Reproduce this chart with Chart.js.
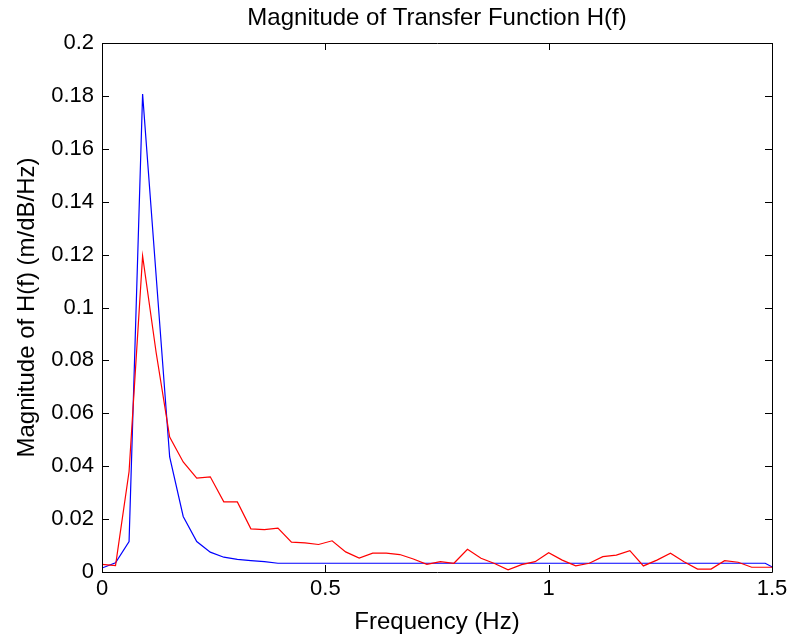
<!DOCTYPE html>
<html>
<head>
<meta charset="utf-8">
<script src="https://cdn.jsdelivr.net/npm/chart.js@4.4.0/dist/chart.umd.min.js"></script>
<style>
html, body { margin: 0; padding: 0; background: #fff; }
</style>
</head>
<body>
<canvas id="grafica" width="793" height="638"></canvas>
<script>
// frecuencias (Hz), paso aprox. 1/33
const frecuencias = [0, 0.0303, 0.0606, 0.0909, 0.1212, 0.1515, 0.1818, 0.2121, 0.2424, 0.2727,
    0.3030, 0.3333, 0.3636, 0.3939, 0.4242, 0.4545, 0.4848, 0.5152, 0.5455, 0.5758,
    0.6061, 0.6364, 0.6667, 0.6970, 0.7273, 0.7576, 0.7879, 0.8182, 0.8485, 0.8788,
    0.9091, 0.9394, 0.9697, 1.0000, 1.0303, 1.0606, 1.0909, 1.1212, 1.1515, 1.1818,
    1.2121, 1.2424, 1.2727, 1.3030, 1.3333, 1.3636, 1.3939, 1.4242, 1.4545, 1.4848, 1.5152];

const serieAzul = [0.0015, 0.0035, 0.0115, 0.1807, 0.112, 0.0435, 0.021, 0.0115, 0.0075, 0.0056,
    0.0048, 0.0043, 0.0039, 0.0033, 0.0033, 0.0033, 0.0033, 0.0033, 0.0033, 0.0033,
    0.0033, 0.0033, 0.0033, 0.0033, 0.0033, 0.0033, 0.0033, 0.0033, 0.0033, 0.0033,
    0.0033, 0.0033, 0.0033, 0.0033, 0.0033, 0.0033, 0.0033, 0.0033, 0.0033, 0.0033,
    0.0033, 0.0033, 0.0033, 0.0033, 0.0033, 0.0033, 0.0033, 0.0033, 0.0033, 0.0033, 0.0006];

const serieRoja = [0.0029, 0.0024, 0.038, 0.1195, 0.083, 0.051, 0.0416, 0.0355, 0.036, 0.0265,
    0.0265, 0.0163, 0.016, 0.0166, 0.0113, 0.011, 0.0104, 0.0118, 0.0076, 0.0053,
    0.0071, 0.0071, 0.0066, 0.0049, 0.0029, 0.0039, 0.0033, 0.0086, 0.0052, 0.0032,
    0.0008, 0.0028, 0.0039, 0.0073, 0.0045, 0.0023, 0.0033, 0.0058, 0.0064, 0.0081,
    0.0023, 0.0045, 0.0071, 0.0039, 0.0011, 0.0011, 0.0043, 0.0037, 0.0018, 0.0018, 0.0018];

const ticksX = [0, 0.5, 1, 1.5];

const fuente = { family: '"Liberation Sans", Arial, sans-serif', size: 22 };
const fuenteTitulos = { family: '"Liberation Sans", Arial, sans-serif', size: 24, weight: 'normal' };

function puntos(valores) {
    return frecuencias.map((f, i) => ({ x: f, y: valores[i] }));
}

// marco con marcas hacia adentro, como en MATLAB
const marcoPlugin = {
    id: 'marco',
    afterDraw(chart) {
        const { ctx, chartArea: a, scales: { x, y } } = chart;
        ctx.save();
        ctx.strokeStyle = '#000';
        ctx.lineWidth = 1;
        ctx.beginPath();
        ctx.rect(a.left + 0.5, a.top + 0.5, a.right - a.left, a.bottom - a.top);
        x.ticks.forEach((t) => {
            const px = Math.round(x.getPixelForValue(t.value)) + 0.5;
            ctx.moveTo(px, a.bottom); ctx.lineTo(px, a.bottom - 7);
            ctx.moveTo(px, a.top); ctx.lineTo(px, a.top + 7);
        });
        y.ticks.forEach((t) => {
            const py = Math.round(y.getPixelForValue(t.value)) + 0.5;
            ctx.moveTo(a.left, py); ctx.lineTo(a.left + 7, py);
            ctx.moveTo(a.right, py); ctx.lineTo(a.right - 7, py);
        });
        ctx.stroke();
        ctx.restore();
    }
};

const config = {
    type: 'line',
    data: {
        datasets: [
            {
                label: 'H1',
                data: puntos(serieAzul),
                borderColor: '#0000ff',
                borderWidth: 1.2,
                pointRadius: 0,
                tension: 0,
                order: 1
            },
            {
                label: 'H2',
                data: puntos(serieRoja),
                borderColor: '#ff0000',
                borderWidth: 1.2,
                pointRadius: 0,
                tension: 0,
                order: 0
            }
        ]
    },
    options: {
        responsive: false,
        animation: false,
        devicePixelRatio: 1,
        layout: { padding: { left: 0, right: 21, top: 0, bottom: 0 } },
        plugins: {
            legend: { display: false },
            tooltip: { enabled: false },
            title: {
                display: true,
                fullSize: false,
                text: 'Magnitude of Transfer Function H(f)',
                color: '#000',
                font: fuenteTitulos,
                padding: { top: 3.6, bottom: 10.6 }
            }
        },
        scales: {
            x: {
                type: 'linear',
                min: 0,
                max: 1.5,
                grid: { display: false, drawTicks: false },
                border: { display: false },
                afterBuildTicks: (scale) => { scale.ticks = ticksX.map((v) => ({ value: v })); },
                afterFit: (scale) => { scale.height = 66; },
                ticks: {
                    color: '#000',
                    font: fuente,
                    padding: 4,
                    maxRotation: 0,
                    callback: (v) => String(v)
                },
                title: {
                    display: true,
                    text: 'Frequency (Hz)',
                    color: '#000',
                    font: fuenteTitulos,
                    padding: { top: 0, bottom: 1.6 }
                }
            },
            y: {
                min: 0,
                max: 0.2,
                grid: { display: false, drawTicks: false },
                border: { display: false },
                afterFit: (scale) => { scale.width = 102; },
                ticks: {
                    stepSize: 0.02,
                    color: '#000',
                    font: fuente,
                    padding: 8,
                    callback: (v) => String(Number(v.toFixed(2)))
                },
                title: {
                    display: true,
                    text: 'Magnitude of H(f) (m/dB/Hz)',
                    color: '#000',
                    font: fuenteTitulos,
                    padding: { top: 12.6, bottom: 0 }
                }
            }
        }
    },
    plugins: [marcoPlugin]
};

window.grafica = new Chart(document.getElementById('grafica'), config);
</script>
</body>
</html>
